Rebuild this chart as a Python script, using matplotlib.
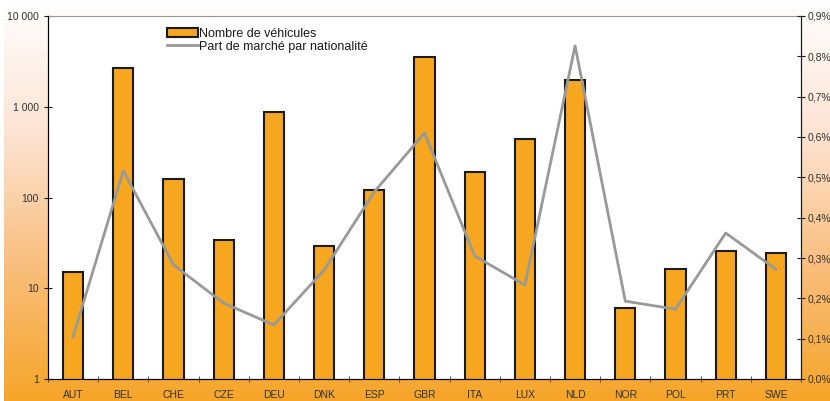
import numpy as np
import matplotlib
matplotlib.use("Agg")
import matplotlib.pyplot as plt
from matplotlib.colors import LinearSegmentedColormap
from matplotlib.ticker import FixedLocator, FuncFormatter

plt.rcParams['font.family'] = ['Liberation Sans', 'DejaVu Sans']

## data
pays = ['AUT', 'BEL', 'CHE', 'CZE', 'DEU', 'DNK', 'ESP', 'GBR',
        'ITA', 'LUX', 'NLD', 'NOR', 'POL', 'PRT', 'SWE']
vehicules = [15, 2650, 160, 34, 870, 29, 121, 3560,
             191, 440, 1955, 6.0, 16.2, 25.7, 24.4]
part_marche = [0.105, 0.516, 0.283, 0.188, 0.134, 0.27, 0.464, 0.61,
               0.305, 0.233, 0.826, 0.193, 0.173, 0.362, 0.272]  # en %

orange = '#F6A71F'
txt = '#333333'

fig = plt.figure(figsize=(8.30, 4.01), dpi=100)

# fond degrade blanc -> orange
bg = fig.add_axes([4 / 830, 0, 1 - 4 / 830, 1])
cmap = LinearSegmentedColormap.from_list('fond', ['#FFFFFF', '#FDE3D2', '#F9BE7C', '#F6A528'])
grad = np.linspace(0, 1, 256).reshape(-1, 1)
bg.imshow(grad, aspect='auto', cmap=cmap, extent=[0, 1, 0, 1], origin='upper')
bg.set_axis_off()

ax = fig.add_axes([48 / 830, 22 / 401, 753 / 830, 363 / 401])
ax.set_facecolor('white')
x = np.arange(len(pays))
ax.bar(x, vehicules, width=0.4, color=orange, edgecolor='#1a1a1a', linewidth=1.5,
       label='Nombre de véhicules', zorder=2)
ax.set_yscale('log')
ax.set_ylim(1, 10000)
ax.set_xlim(-0.5, len(pays) - 0.5)
ax.yaxis.set_major_locator(FixedLocator([1, 10, 100, 1000, 10000]))
ax.yaxis.set_minor_locator(FixedLocator([]))
ax.yaxis.set_major_formatter(FuncFormatter(lambda v, p: '{:,}'.format(int(v)).replace(',', ' ')))
ax.set_xticks(x)
ax.set_xticklabels(pays)
ax.set_xticks(np.arange(-0.5, len(pays), 1), minor=True)
ax.tick_params(axis='x', which='major', length=0, pad=8, labelsize=7.5, labelcolor=txt)
ax.tick_params(axis='x', which='minor', length=5, direction='inout', color='#333333')
ax.tick_params(axis='y', which='major', length=6, direction='inout', labelsize=7.5,
               labelcolor=txt, color='#1a1a1a')
ax.spines['top'].set_color('#999999')
ax.spines['left'].set_color('#1a1a1a')
ax.spines['bottom'].set_color('#333333')

ax2 = ax.twinx()
ax2.plot(x, part_marche, color='#999999', linewidth=2, label='Part de marché par nationalité', zorder=3)
ax2.set_ylim(0, 0.9)
ax2.set_yticks(np.arange(0, 0.91, 0.1))
ax2.yaxis.set_major_formatter(FuncFormatter(lambda v, p: '{:.1f}%'.format(v).replace('.', ',')))
ax2.tick_params(axis='y', length=6, direction='inout', pad=1.5, labelsize=7.5,
                labelcolor=txt, color='#1a1a1a')
ax2.spines['right'].set_color('#1a1a1a')
ax2.spines['top'].set_visible(False)

h1, l1 = ax.get_legend_handles_labels()
h2, l2 = ax2.get_legend_handles_labels()
leg = ax2.legend(h1 + h2, l1 + l2, loc='upper left', bbox_to_anchor=(0.15, 0.985),
                 frameon=False, fontsize=9, handlelength=2.5, handleheight=0.8,
                 labelspacing=0.05, handletextpad=0.05, borderpad=0)
for t in leg.get_texts():
    t.set_color('#1a1a1a')

fig.savefig('out.png', dpi=100)
